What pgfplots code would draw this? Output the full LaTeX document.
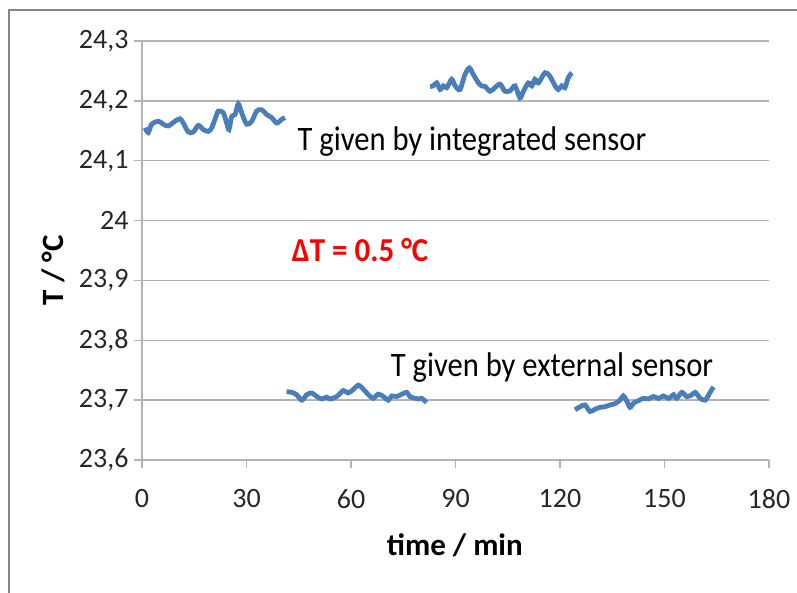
\documentclass[border=0pt]{standalone}
\usepackage{pgfplots}
\pgfplotsset{compat=1.18}
\usepackage{fontspec}
\setmainfont{Carlito}
\definecolor{lineblue}{HTML}{4A7EBB}
\definecolor{gridgray}{HTML}{B3B3B3}
\definecolor{framegray}{HTML}{858585}

\begin{document}
\begin{tikzpicture}
% page area and outer frame (axis box lower-left is the origin)
\path[use as bounding box] (-142pt,-133pt) rectangle (655pt,460pt);
\draw[framegray, line width=2pt] (-133pt,-140pt) -- (-133pt,450pt) -- (660pt,450pt);

\begin{axis}[
  at={(0,0)}, anchor=south west,
  scale only axis,
  width=627pt, height=419pt,
  xmin=0, xmax=180, ymin=23.6, ymax=24.3,
  xtick={0,30,...,180},
  ytick={23.6,23.7,...,24.31},
  axis x line=bottom, axis y line=left,
  axis line style={-, gridgray, line width=1.3pt},
  ymajorgrids, major grid style={gridgray, line width=1.3pt},
  tick style={gridgray, line width=1.3pt},
  major tick length=8pt,
  xtick pos=bottom, ytick pos=left,
  tick align=outside,
  /pgf/number format/.cd, use comma, fixed, precision=1, assume math mode=true,
  /pgfplots/.cd,
  ticklabel style={font=\fontsize{28}{32}\selectfont, text=black!85},
  yticklabel style={xshift=-2pt},
  xticklabel style={yshift=-18pt},
  xlabel={time / min},
  ylabel={T / °C},
  label style={font=\fontsize{31}{36}\selectfont\bfseries},
  xlabel style={at={(axis description cs:0.499,-0.203)}, anchor=center},
  ylabel style={at={(axis description cs:-0.142,0.453)}, anchor=center},
  clip=false,
]
% integrated sensor, first interval
\addplot[lineblue, line width=4.8pt, smooth, tension=0.5] coordinates {
(0.86,24.155) (1.81,24.147) (2.78,24.161) (4.68,24.166) (6.12,24.161)
(7.55,24.158) (9.47,24.166) (10.9,24.170) (11.86,24.163) (13.29,24.148)
(14.73,24.148) (16.16,24.159) (17.6,24.152) (19.03,24.149) (20.01,24.155)
(21.25,24.174) (21.9,24.183) (23.34,24.180) (24.3,24.163) (24.97,24.152)
(25.75,24.174) (26.7,24.177) (27.65,24.195) (28.6,24.180) (30.06,24.161)
(31.5,24.166) (32.93,24.183) (34.37,24.185) (35.8,24.177) (37.24,24.172)
(38.67,24.163) (40.1,24.169) (41.06,24.172)
};
% external sensor, second interval
\addplot[lineblue, line width=4.8pt, smooth, tension=0.5] coordinates {
(41.5,23.714) (43.0,23.713) (44.4,23.709) (45.9,23.700) (47.3,23.709)
(48.7,23.712) (50.2,23.706) (51.6,23.702) (53.0,23.705) (54.0,23.702)
(55.9,23.706) (57.8,23.716) (59.2,23.712) (60.7,23.718) (62.1,23.725)
(63.6,23.718) (65.0,23.709) (66.4,23.703) (67.8,23.710) (69.3,23.706)
(70.7,23.700) (71.7,23.707) (73.1,23.706) (74.6,23.710) (76.0,23.713)
(76.9,23.706) (78.4,23.703) (79.3,23.702) (80.3,23.703) (81.7,23.696)
};
% integrated sensor, third interval
\addplot[lineblue, line width=4.8pt, smooth, tension=0.5] coordinates {
(82.7,24.224) (83.6,24.225) (84.6,24.230) (85.6,24.219) (86.5,24.225)
(87.5,24.222) (88.9,24.236) (89.9,24.225) (91.3,24.219) (92.7,24.244)
(94.0,24.255) (95.1,24.244) (96.6,24.230) (97.5,24.225) (98.5,24.224)
(99.9,24.216) (101.3,24.222) (102.8,24.228) (104.2,24.216) (105.7,24.217)
(107.1,24.225) (108.5,24.205) (109.5,24.216) (110.9,24.230) (111.9,24.225)
(112.8,24.236) (113.8,24.230) (115.7,24.247) (117.1,24.241) (118.6,24.225)
(119.5,24.219) (120.5,24.225) (121.4,24.222) (122.4,24.239) (123.4,24.247)
};
% external sensor, fourth interval
\addplot[lineblue, line width=4.8pt, smooth, tension=0.5] coordinates {
(124.3,23.684) (125.8,23.689) (127.2,23.692) (128.6,23.681) (130.1,23.685)
(131.5,23.688) (132.9,23.689) (134.4,23.692) (135.8,23.694) (137.2,23.700)
(138.2,23.707) (139.2,23.698) (140.1,23.688) (141.1,23.695) (142.5,23.699)
(143.9,23.703) (145.4,23.702) (146.8,23.706) (148.3,23.703) (149.7,23.707)
(151.2,23.703) (152.6,23.709) (153.5,23.703) (155.0,23.713) (156.4,23.706)
(157.9,23.709) (158.8,23.713) (160.3,23.703) (161.7,23.700) (162.7,23.709)
(163.6,23.718) (164.1,23.722)
};
\node[font=\fontsize{30.6}{36}\selectfont, text=black, yscale=1.12, transform shape] at (axis cs:94.7,24.132) {T given by integrated sensor};
\node[font=\fontsize{31}{36}\selectfont\bfseries, text=red, yscale=1.08, transform shape] at (axis cs:62.6,23.951) {ΔT = 0.5 °C};
\node[font=\fontsize{30.6}{36}\selectfont, text=black, yscale=1.12, transform shape] at (axis cs:117.7,23.754) {T given by external sensor};
\end{axis}
\end{tikzpicture}
\end{document}
